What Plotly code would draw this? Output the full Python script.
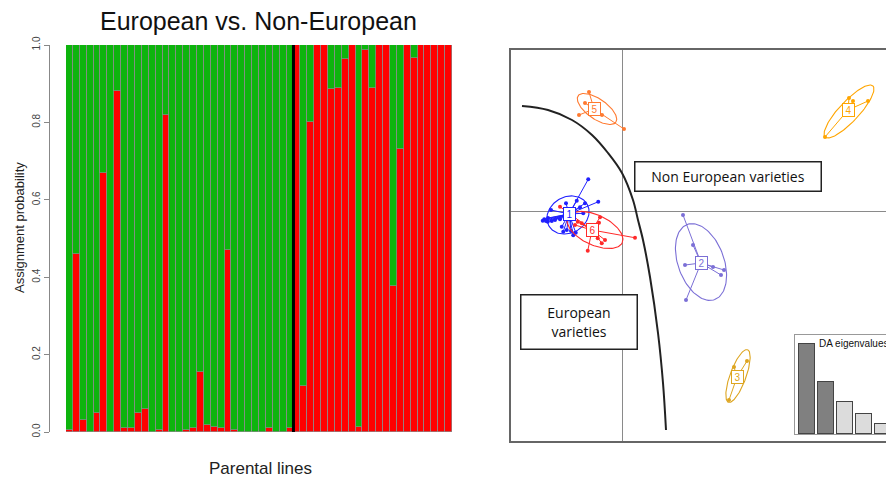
import numpy as np
import plotly.graph_objects as go

# Page is 894x481; body has an 8px margin, so the figure is drawn 8px smaller and offset.
W, H = 894, 481
OFF = 8
FW, FH = W - OFF, H - OFF


def fx(px):
    return (px - OFF) / FW


def fy(py):
    return 1 - (py - OFF) / FH


# ---------------- Left panel data: membership probability (red = Non-European) ----------------
red_left = [0.005, 0.46, 0.03, 0.0, 0.05, 0.67, 0.0, 0.88, 0.01, 0.01, 0.05, 0.06, 0.0, 0.005, 0.82, 0.0,
            0.0, 0.005, 0.01, 0.155, 0.018, 0.012, 0.01, 0.47, 0.005, 0.0, 0.0, 0.0, 0.0, 0.01, 0.0, 0.0, 0.01]
red_right = [1.0, 0.12, 0.80, 1.0, 1.0, 0.886, 0.89, 0.964, 1.0, 0.013, 0.987, 0.89, 1.0, 1.0,
             0.377, 0.73, 1.0, 0.966, 1.0, 1.0, 1.0, 1.0, 1.0]
red_vals = red_left + red_right
green_vals = [1 - v for v in red_vals]
lines_idx = list(range(1, len(red_vals) + 1))
y_ticks = [0.0, 0.2, 0.4, 0.6, 0.8, 1.0]
y_ticklabels = ["0.0", "0.2", "0.4", "0.6", "0.8", "1.0"]

# ---------------- Right panel data: DAPC scatter ----------------
clusters = {
    "1": dict(color="#2020FF", centroid=(-2.12, -0.12),
              px=[-1.35, -0.95, -1.48, -1.81, -2.24, -2.84, -3.11, -3.17, -2.97, -2.68, -2.48, -2.41,
                  -2.21, -2.04, -1.85, -1.95, -1.68, -1.55, -2.81, -2.35, -2.96, -3.04],
              py=[1.27, 0.37, 0.31, 0.41, 0.31, 0.04, -0.33, -0.39, -0.43, -0.36, -0.33, -0.63,
                  -0.76, -0.80, -0.87, -0.97, 0.15, -0.09, -0.40, -0.83, -0.28, -0.40],
              ell=(-2.16, -0.16, 0.88, 0.72, 30)),
    "6": dict(color="#FF2A2A", centroid=(-1.20, -0.76),
              px=[-2.48, -1.77, -1.61, -1.88, -0.88, -0.92, -0.97, -0.81, -0.68, -1.37, 0.52],
              py=[0.17, -0.43, -0.49, -0.56, -0.25, -0.47, -1.09, -1.29, -1.16, -1.59, -1.07],
              ell=(-1.08, -0.76, 1.2, 0.6, -25)),
    "5": dict(color="#FF7A30", centroid=(-1.12, 4.08),
              px=[-1.32, -1.48, -1.72, -0.80, 0.08],
              py=[4.76, 4.32, 3.84, 3.84, 3.28],
              ell=(-1.0, 4.08, 0.92, 0.40, -35)),
    "4": dict(color="#FFA500", centroid=(9.04, 4.04),
              px=[9.08, 9.24, 9.84, 8.12],
              py=[4.52, 4.40, 4.40, 2.96],
              ell=(9.08, 3.98, 1.4, 0.40, 47)),
    "3": dict(color="#DDA520", centroid=(4.60, -6.64),
              px=[4.48, 5.00, 4.28],
              py=[-6.24, -6.00, -7.56],
              ell=(4.64, -6.60, 1.12, 0.32, 70)),
    "2": dict(color="#7B6FD6", centroid=(3.16, -2.08),
              px=[2.44, 2.84, 2.52, 3.64, 4.08, 3.96, 2.56],
              py=[-0.16, -1.36, -2.16, -2.24, -2.36, -2.56, -3.56],
              ell=(3.16, -2.04, 1.6, 0.92, -70)),
}
curve_x = [-4.0, -2.96, -2.0, -1.2, -0.56, 0.0, 0.44, 0.64, 0.84, 1.12, 1.44, 1.64, 1.76]
curve_y = [4.2, 4.04, 3.64, 3.04, 2.32, 1.52, 0.44, -0.36, -1.16, -2.64, -4.88, -6.88, -8.76]

eig_idx = [1, 2, 3, 4, 5]
eig_vals = [90, 52, 32, 20, 10]
eig_colors = ["#808080", "#808080", "#DCDCDC", "#DCDCDC", "#DCDCDC"]

# ---------------- Figure ----------------
fig = go.Figure()

bar_line = dict(color="#8c8c8c", width=0.7)
fig.add_bar(x=lines_idx, y=red_vals, marker=dict(color="#FF0000", line=bar_line),
            xaxis="x", yaxis="y", showlegend=False, hoverinfo="skip")
fig.add_bar(x=lines_idx, y=green_vals, marker=dict(color="#0DB40D", line=bar_line),
            xaxis="x", yaxis="y", showlegend=False, hoverinfo="skip")

fig.add_scatter(x=curve_x, y=curve_y, mode="lines", line=dict(color="#222222", width=2, shape="spline"),
                xaxis="x2", yaxis="y2", showlegend=False, hoverinfo="skip")

t = np.linspace(0, 2 * np.pi, 120)
for name, c in clusters.items():
    cx, cy = c["centroid"]
    sx, sy = [], []
    for a, b in zip(c["px"], c["py"]):
        sx += [cx, a, None]
        sy += [cy, b, None]
    fig.add_scatter(x=sx, y=sy, mode="lines", line=dict(color=c["color"], width=1),
                    xaxis="x2", yaxis="y2", showlegend=False, hoverinfo="skip")
    ex, ey, ea, eb, ang = c["ell"]
    th = np.deg2rad(ang)
    xe = ex + ea * np.cos(t) * np.cos(th) - eb * np.sin(t) * np.sin(th)
    ye = ey + ea * np.cos(t) * np.sin(th) + eb * np.sin(t) * np.cos(th)
    fig.add_scatter(x=xe, y=ye, mode="lines", line=dict(color=c["color"], width=1.1),
                    xaxis="x2", yaxis="y2", showlegend=False, hoverinfo="skip")
    fig.add_scatter(x=c["px"], y=c["py"], mode="markers", marker=dict(color=c["color"], size=4),
                    xaxis="x2", yaxis="y2", showlegend=False, hoverinfo="skip")
    fig.add_annotation(x=cx, y=cy, xref="x2", yref="y2", text=name, showarrow=False,
                       xanchor="center", yanchor="middle",
                       font=dict(family="Liberation Sans", size=10, color=c["color"]),
                       bgcolor="white", bordercolor=c["color"], borderwidth=1, borderpad=0,
                       width=11, height=12)

fig.add_bar(x=eig_idx, y=eig_vals, width=0.84,
            marker=dict(color=eig_colors, line=dict(color="#444444", width=1.2)),
            xaxis="x3", yaxis="y3", showlegend=False, hoverinfo="skip")

fig.add_shape(type="line", xref="x", yref="y", x0=33.5, x1=33.5, y0=-0.015, y1=1.0,
              line=dict(color="black", width=3))

fig.add_annotation(x=fx(258), y=fy(21), xref="paper", yref="paper", text="European vs. Non-European",
                   showarrow=False, xanchor="center", yanchor="middle",
                   font=dict(family="Liberation Sans", size=25, color="#111"))
fig.add_annotation(x=fx(260), y=fy(468), xref="paper", yref="paper", text="Parental lines",
                   showarrow=False, xanchor="center", yanchor="middle",
                   font=dict(family="Liberation Sans", size=17, color="#222"))
fig.add_annotation(x=fx(20), y=fy(228), xref="paper", yref="paper", text="Assignment probability",
                   textangle=-90, showarrow=False, xanchor="center", yanchor="middle",
                   font=dict(family="Liberation Sans", size=13, color="#222"))

fig.add_annotation(x=4.24, y=1.4, xref="x2", yref="y2", text="Non European varieties", showarrow=False,
                   xanchor="center", yanchor="middle",
                   font=dict(family="Open Sans", size=14, color="#111"), bgcolor="white",
                   bordercolor="#222", borderwidth=1.5, width=183, height=26)
fig.add_annotation(x=-1.74, y=-4.42, xref="x2", yref="y2", text="European<br>varieties", showarrow=False,
                   xanchor="center", yanchor="middle",
                   font=dict(family="Open Sans", size=14, color="#111"), bgcolor="white",
                   bordercolor="#222", borderwidth=1.5, width=113, height=51)
fig.add_annotation(x=1.53, y=91, xref="x3", yref="y3", text="DA eigenvalues", showarrow=False,
                   xanchor="left", yanchor="middle",
                   font=dict(family="Liberation Sans", size=10, color="#111"))

fig.update_layout(
    width=FW, height=FH, margin=dict(l=0, r=0, t=0, b=0, autoexpand=False),
    paper_bgcolor="white", plot_bgcolor="white",
    barmode="stack", bargap=0,
    xaxis=dict(domain=[fx(66), fx(452)], range=[0.5, len(red_vals) + 0.5], visible=False, anchor="y",
               automargin=False),
    yaxis=dict(domain=[fy(432), fy(45)], range=[0, 1], anchor="free", position=fx(49), automargin=False,
               tickvals=y_ticks, ticktext=y_ticklabels, tickangle=-90, ticks="outside", ticklen=5,
               tickcolor="#888", showline=True, linecolor="#888", linewidth=1, showgrid=False,
               zeroline=False, tickfont=dict(family="Liberation Sans", size=10, color="#444")),
    xaxis2=dict(domain=[fx(511), 1.0], range=[(511 - 622) / 25, (W - 622) / 25], anchor="y2", automargin=False,
                showline=True, mirror=True, linecolor="#666", linewidth=1.5, showgrid=False,
                zeroline=True, zerolinecolor="#8a8a8a", zerolinewidth=1.3, showticklabels=False, ticks=""),
    yaxis2=dict(domain=[fy(441), fy(50)], range=[(211 - 441) / 25, (211 - 50) / 25], anchor="x2",
                automargin=False,
                showline=True, mirror=False, linecolor="#666", linewidth=1.5, showgrid=False,
                zeroline=True, zerolinecolor="#8a8a8a", zerolinewidth=1.3, showticklabels=False, ticks=""),
    xaxis3=dict(domain=[fx(795), 1.0], range=[1 - 12 / 19, 1 + 87 / 19], anchor="y3", automargin=False,
                showline=True, mirror=True, linecolor="#999", linewidth=1, showgrid=False,
                zeroline=False, showticklabels=False, ticks=""),
    yaxis3=dict(domain=[fy(434), fy(335)], range=[0, 99], anchor="x3", automargin=False,
                showline=True, mirror=True, linecolor="#999", linewidth=1, showgrid=False,
                zeroline=False, showticklabels=False, ticks=""),
)

fig.write_html("out.html")
